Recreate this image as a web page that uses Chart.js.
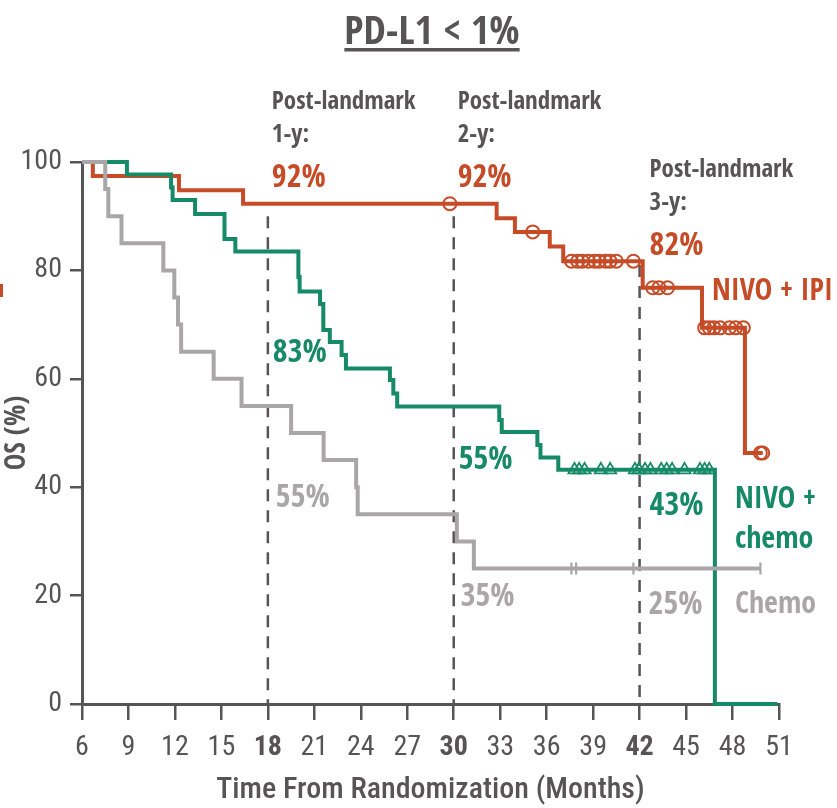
<!DOCTYPE html>
<html>
<head>
<meta charset="utf-8">
<title>PD-L1 &lt; 1% — Overall survival</title>
<script src="https://cdn.jsdelivr.net/npm/chart.js@4.4.1/dist/chart.umd.min.js"></script>
<style>
  html, body { margin: 0; padding: 0; background: #ffffff; }
  #wrap { width: 837px; height: 808px; position: relative; }
</style>
</head>
<body>
<div id="wrap"><canvas id="km"></canvas></div>
<script>
// ---- Kaplan–Meier data (months from randomization, OS %) ----
// Each step: from that time onward the survival equals the matching value.
const ipiTimes = [6, 6.7, 12.26, 16.4, 32.77, 33.95, 36.2, 37.07, 42.2, 46.03, 48.8, 49.95];
const ipiSurv  = [100, 97.4, 94.8, 92.3, 89.6, 87.1, 84.4, 81.7, 76.8, 69.4, 46.3, 46.3];
const ipiCensored = [29.75, 35.1, 37.6, 38.0, 38.3, 38.7, 39.1, 39.4, 39.8, 40.1, 40.5, 41.6,
                     42.85, 43.25, 43.8, 46.2, 46.5, 46.8, 47.2, 47.8, 48.2, 48.7, 49.8, 49.95];

const chemoNivoTimes = [6, 8.9, 11.75, 11.85, 13.3, 15.2, 15.9, 19.97, 20.05, 21.37, 21.58, 22.0,
                        22.76, 23.04, 25.88, 26.1, 26.35, 32.94, 33.1, 35.4, 35.6, 36.75, 46.86, 50.9];
const chemoNivoSurv  = [100, 97.7, 95.3, 93.0, 90.4, 85.8, 83.5, 78.8, 76.1, 73.8, 69.0, 66.8,
                        64.4, 61.9, 59.8, 57.3, 54.9, 52.4, 50.2, 47.8, 45.5, 43.2, 0, 0];
const chemoNivoCensored = [37.8, 38.1, 38.45, 39.5, 40.1, 41.7, 41.95, 42.35, 42.7, 43.4, 43.75,
                           44.1, 44.9, 45.9, 46.2, 46.5];

const chemoTimes = [6, 7.5, 7.7, 8.55, 11.25, 11.96, 12.2, 12.4, 14.5, 16.3, 19.5, 21.6, 23.7, 23.8, 30.2, 31.3, 49.8];
const chemoSurv  = [100, 95, 90, 85, 80, 75, 70, 65, 60, 55, 50, 45, 40, 35, 30, 25, 25];
const chemoCensored = [37.6, 37.9, 41.6, 49.8];

// Post-landmark milestones (months) and the top of each guide line (%)
const landmarkMonths = [18, 30, 42];
const landmarkTops   = [90, 90, 81];

// Axis ticks
const xTickStart = 6, xTickEnd = 51, xTickStep = 3;
const yTickStart = 0, yTickEnd = 100, yTickStep = 20;

// Landmark rates printed on the chart (%)
const ipiRates       = [92, 92, 82];
const chemoNivoRates = [83, 55, 43];
const chemoRates     = [55, 35, 25];

// ---- styling ----
const FONT_B = '"Open Sans Condensed", "Roboto Condensed", "DejaVu Sans Condensed", sans-serif';
const FONT_R = '"Roboto Condensed", "DejaVu Sans Condensed", sans-serif';
const RED = '#C64B27';
const GREEN = '#168A66';
const GREY = '#A9A6A7';
const DARK = '#565455';

const toPoints = (times, surv) => times.map((t, i) => ({ x: t, y: surv[i] }));
function survivalAt(times, surv, t) {
  let v = surv[0];
  for (let i = 0; i < times.length; i++) { if (times[i] <= t) v = surv[i]; }
  return v;
}
const censorPoints = (marks, times, surv) => marks.map(t => ({ x: t, y: survivalAt(times, surv, t) }));

const curve = (data, color, order) => ({
  type: 'line', data, borderColor: color, borderWidth: 4, stepped: 'before',
  pointRadius: 0, fill: false, order, clip: false
});
const marks = (data, color, style, extra) => Object.assign({
  type: 'scatter', data, showLine: false, pointStyle: style, pointRadius: 6.5,
  pointBorderColor: color, pointBackgroundColor: 'rgba(0,0,0,0)', pointBorderWidth: 2,
  order: 0, clip: false
}, extra || {});

const datasets = [];
landmarkMonths.forEach((m, i) => datasets.push({
  type: 'line', data: [{ x: m, y: landmarkTops[i] }, { x: m, y: 0 }],
  borderColor: DARK, borderWidth: 2.5, borderDash: [12, 9], pointRadius: 0, order: 10
}));
datasets.push(curve(toPoints(ipiTimes, ipiSurv), RED, 5));
datasets.push(curve(toPoints(chemoNivoTimes, chemoNivoSurv), GREEN, 4));
datasets.push(curve(toPoints(chemoTimes, chemoSurv), GREY, 3));
datasets.push(marks(censorPoints(ipiCensored, ipiTimes, ipiSurv), RED, 'circle'));
datasets.push(marks(censorPoints(chemoNivoCensored, chemoNivoTimes, chemoNivoSurv), GREEN, 'triangle',
  { pointRadius: 7, pointBorderWidth: 1.8 }));
datasets.push(marks(censorPoints(chemoCensored, chemoTimes, chemoSurv), GREY, 'line',
  { pointRotation: 90, pointRadius: 6, pointBorderWidth: 2.2 }));

// Title, landmark notes and arm labels
const overlay = {
  id: 'overlay',
  afterDraw(chart) {
    const { ctx, scales: { x } } = chart;
    const text = (s, px, py, color, font, align) => {
      ctx.fillStyle = color; ctx.font = font; ctx.textAlign = align || 'left';
      ctx.textBaseline = 'alphabetic'; ctx.fillText(s, px, py);
    };
    ctx.save();
    // title with underline
    const title = 'PD-L1 < 1%';
    const titleFont = `700 40px ${FONT_B}`;
    text(title, 432, 44, DARK, titleFont, 'center');
    ctx.font = titleFont;
    const tw = ctx.measureText(title).width;
    ctx.fillRect(432 - tw / 2, 48, tw, 3.5);

    const note = `700 25px ${FONT_B}`;
    const pct = `700 32px ${FONT_B}`;
    const arm = `700 30px ${FONT_B}`;
    const lx = landmarkMonths.map(m => x.getPixelForValue(m));

    // landmark headings
    const tops = [109, 109, 177];
    landmarkMonths.forEach((m, i) => {
      const px = lx[i] + (i === 2 ? 10 : 4);
      text('Post-landmark', px, tops[i], DARK, note);
      text(`${i + 1}-y:`, px, tops[i] + 33, DARK, note);
      text(`${ipiRates[i]}%`, px, tops[i] + 78, RED, pct);
    });
    // NIVO + chemo rates
    text(`${chemoNivoRates[0]}%`, lx[0] + 5, 362, GREEN, pct);
    text(`${chemoNivoRates[1]}%`, lx[1] + 5, 469, GREEN, pct);
    text(`${chemoNivoRates[2]}%`, lx[2] + 10, 515, GREEN, pct);
    // chemo rates
    text(`${chemoRates[0]}%`, lx[0] + 8, 507, GREY, pct);
    text(`${chemoRates[1]}%`, lx[1] + 7, 606, GREY, pct);
    text(`${chemoRates[2]}%`, lx[2] + 9, 614, GREY, pct);

    // arm labels
    text('NIVO + IPI', 712, 300, RED, arm);
    text('NIVO +', 735, 508, GREEN, arm);
    text('chemo', 735, 548, GREEN, arm);
    text('Chemo', 735, 613, GREY, arm);

    // edge mark at the left border
    ctx.fillStyle = RED;
    ctx.fillRect(0, 284, 3, 13);
    ctx.restore();
  }
};

new Chart(document.getElementById('km'), {
  type: 'line',
  data: { datasets },
  plugins: [overlay],
  options: {
    responsive: true,
    maintainAspectRatio: false,
    animation: false,
    events: [],
    layout: { padding: { top: 162, right: 58, left: 0, bottom: 0 } },
    plugins: { legend: { display: false }, tooltip: { enabled: false }, title: { display: false } },
    scales: {
      x: {
        type: 'linear', min: xTickStart, max: xTickEnd,
        afterFit: s => { s.height = 104; },
        afterBuildTicks: s => {
          const t = [];
          for (let v = xTickStart; v <= xTickEnd; v += xTickStep) t.push({ value: v });
          s.ticks = t;
        },
        ticks: {
          color: DARK, padding: 11, autoSkip: false, maxRotation: 0,
          font: c => ({ family: FONT_R, size: 28,
            weight: landmarkMonths.includes(c.tick && c.tick.value) ? '700' : '400' })
        },
        grid: { display: true, drawOnChartArea: false, drawTicks: true, tickLength: 16,
                color: DARK, lineWidth: 2.5 },
        border: { display: true, color: DARK, width: 3 },
        title: { display: true, text: 'Time From Randomization (Months)', color: DARK,
                 font: { family: FONT_R, size: 30, weight: '500' }, padding: { top: 0, bottom: 0 } }
      },
      y: {
        type: 'linear', min: yTickStart, max: yTickEnd,
        afterFit: s => { s.width = 82; },
        ticks: { stepSize: yTickStep, color: DARK, padding: 8,
                 font: { family: FONT_R, size: 28, weight: '400' } },
        grid: { display: true, drawOnChartArea: false, drawTicks: true, tickLength: 12,
                color: DARK, lineWidth: 2.5 },
        border: { display: true, color: DARK, width: 3 },
        title: { display: true, text: 'OS (%)', color: DARK,
                 font: { family: FONT_B, size: 28, weight: '700' }, padding: { top: 1, bottom: 0 } }
      }
    }
  }
});
</script>
</body>
</html>
